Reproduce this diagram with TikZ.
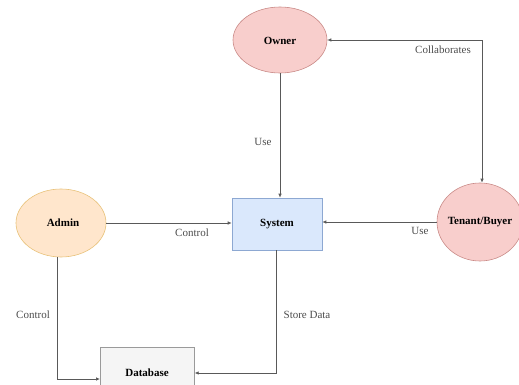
\documentclass[tikz,border=0pt]{standalone}
\usepackage{fontspec}
\setmainfont{Liberation Serif}
\usetikzlibrary{arrows.meta,shapes.geometric}
\definecolor{redfill}{HTML}{F8CECC}
\definecolor{redline}{HTML}{C98A87}
\definecolor{orfill}{HTML}{FFE6CC}
\definecolor{orline}{HTML}{E8C27A}
\definecolor{blfill}{HTML}{DAE8FC}
\definecolor{blline}{HTML}{8DA8D2}
\definecolor{grfill}{HTML}{F5F5F5}
\definecolor{grline}{HTML}{9A9A9A}
\begin{document}
\begin{tikzpicture}[x=1pt,y=-1pt,
  nodefont/.style={font=\bfseries\fontsize{11}{12}\selectfont},
  redell/.style={ellipse,draw=redline,fill=redfill,line width=0.6pt,nodefont,inner sep=0pt},
  orangeell/.style={ellipse,draw=orline,fill=orfill,line width=0.6pt,nodefont,inner sep=0pt},
  bluebox/.style={rectangle,draw=blline,fill=blfill,line width=0.6pt,nodefont},
  graybox/.style={rectangle,draw=grline,fill=grfill,line width=0.6pt},
  conn/.style={draw=black!65,line width=0.7pt,-{Latex[length=4pt,width=3.5pt]}},
  lbl/.style={font=\fontsize{11}{12}\selectfont,text=black!70,inner sep=1pt}]
\useasboundingbox (0,0) rectangle (519,385);
\clip (0,0) rectangle (519,385);
\node[redell,minimum width=94pt,minimum height=66pt] (owner) at (280,40) {};
\node[nodefont] (ownertext) at (280,41) {Owner};
\node[orangeell,minimum width=90pt,minimum height=68pt] (admin) at (61,223) {};
\node[nodefont] (admintext) at (63,223) {Admin};
\node[bluebox,minimum width=90pt,minimum height=52pt] (system) at (277,224) {};
\node[nodefont] (systemtext) at (277,224) {System};
\node[redell,minimum width=86pt,minimum height=78pt] (tenant) at (480,222) {};
\node[nodefont] (tenanttext) at (480,222) {Tenant/Buyer};
\node[graybox,minimum width=94pt,minimum height=52pt,anchor=north west] (db) at (100,347) {};
\node[nodefont] (dbtext) at (147,373) {Database};
\coordinate (c1) at (482,40);
\coordinate (c2) at (57,379);
\coordinate (c3) at (276,373);
\draw[conn,{Latex[length=4pt,width=3.5pt]}-{Latex[length=4pt,width=3.5pt]}] (owner.east) -- (c1) -- (tenant.north -| c1);
\node[lbl] (lcol) at (443,50) {Collaborates};
\draw[conn] (owner.south) -- (system.north -| owner.south);
\node[lbl] (luse1) at (263,142) {Use};
\draw[conn] (admin.east) -- (system.west |- admin.east);
\node[lbl] (lctl1) at (192,233) {Control};
\draw[conn] (tenant.west) -- (system.east |- tenant.west);
\node[lbl] (luse2) at (420,231) {Use};
\draw[conn] (admin.south -| c2) -- (c2) -- (db.west |- c2);
\node[lbl] (lctl2) at (33,315) {Control};
\draw[conn] (system.south -| c3) -- (c3) -- (db.east |- c3);
\node[lbl] (lstore) at (307,315) {Store Data};
\end{tikzpicture}
\end{document}
